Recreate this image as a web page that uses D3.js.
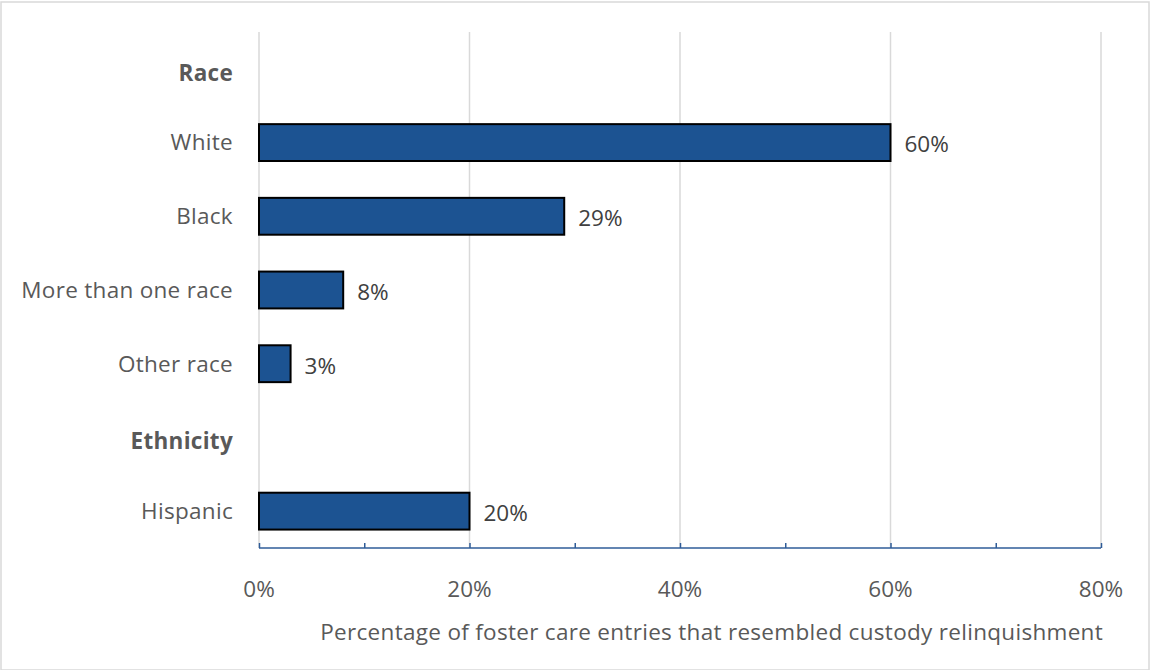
<!DOCTYPE html>
<html><head><meta charset="utf-8">
<script src="https://cdn.jsdelivr.net/npm/d3@7"></script>
<style>body{margin:0;background:#fff;} svg{display:block;}</style>
</head><body>
<svg id="c" width="1151" height="670"></svg>
<script>
const categories = ["Race","White","Black","More than one race","Other race","Ethnicity","Hispanic"];
const headers = ["Race","Ethnicity"];
const values = [null,60,29,8,3,null,20];
const tickValues = [0,20,40,60,80];
const minorTicks = [0,10,20,30,40,50,60,70,80];
const axisTitle = "Percentage of foster care entries that resembled custody relinquishment";

const svg = d3.select("#c");
const W=1151,H=670;
const m={left:259,right:1101,top:32,bottom:548};
const font="'Open Sans', Lato, sans-serif";
const textCol="#595959";
const fs=22.5;

svg.append("rect").attr("x",1).attr("y",2).attr("width",W-3).attr("height",H-2)
  .attr("fill","#fff").attr("stroke","#d9d9d9").attr("stroke-width",1.5);

const x=d3.scaleLinear().domain([0,80]).range([m.left,m.right]);
const y=d3.scaleBand().domain(categories).range([m.top,m.bottom]).paddingInner(0.5).paddingOuter(0.25);

// gridlines
svg.append("g").selectAll("line").data(tickValues).join("line")
  .attr("x1",d=>x(d)).attr("x2",d=>x(d)).attr("y1",m.top).attr("y2",m.bottom)
  .attr("stroke","#d9d9d9").attr("stroke-width",1.5);

// bars
const data=categories.map((c,i)=>({c,v:values[i]})).filter(d=>d.v!=null);
svg.append("g").selectAll("rect").data(data).join("rect")
  .attr("x",x(0)).attr("y",d=>y(d.c)).attr("width",d=>x(d.v)-x(0)).attr("height",y.bandwidth())
  .attr("fill","#1C5392").attr("stroke","#000").attr("stroke-width",2);

// value labels
svg.append("g").selectAll("text").data(data).join("text")
  .attr("x",d=>x(d.v)+14).attr("y",d=>y(d.c)+y.bandwidth()/2+2).attr("dy","0.35em")
  .attr("font-family",font).attr("font-size",fs).attr("fill","#404040").text(d=>d.v+"%");

// axis line + minor ticks
const ax=svg.append("g").attr("transform",`translate(0,${m.bottom})`)
  .call(d3.axisTop(x).tickValues(minorTicks).tickSize(5).tickFormat(""));
ax.select(".domain").attr("stroke","#2F5C98").attr("stroke-width",1.5).attr("d",`M${m.left},0H${m.right}`);
ax.selectAll(".tick line").attr("stroke","#2F5C98").attr("stroke-width",1.5);

// tick labels
svg.append("g").selectAll("text").data(tickValues).join("text")
  .attr("x",d=>x(d)).attr("y",597).attr("text-anchor","middle")
  .attr("font-family",font).attr("font-size",fs).attr("fill",textCol).text(d=>d+"%");

// category labels
svg.append("g").selectAll("text").data(categories).join("text")
  .attr("x",m.left-26).attr("y",d=>y(d)+y.bandwidth()/2 + (headers.includes(d)?4:0)).attr("dy","0.35em")
  .attr("text-anchor","end").attr("font-family",font).attr("font-size",fs)
  .attr("letter-spacing",0.3)
  .attr("font-weight",d=>headers.includes(d)?"bold":"normal")
  .attr("fill",textCol).text(d=>d);

svg.append("text").attr("x",m.right+2).attr("y",640).attr("text-anchor","end")
  .attr("font-family",font).attr("font-size",fs).attr("letter-spacing",0.3)
  .attr("fill",textCol).text(axisTitle);
</script>
</body></html>
